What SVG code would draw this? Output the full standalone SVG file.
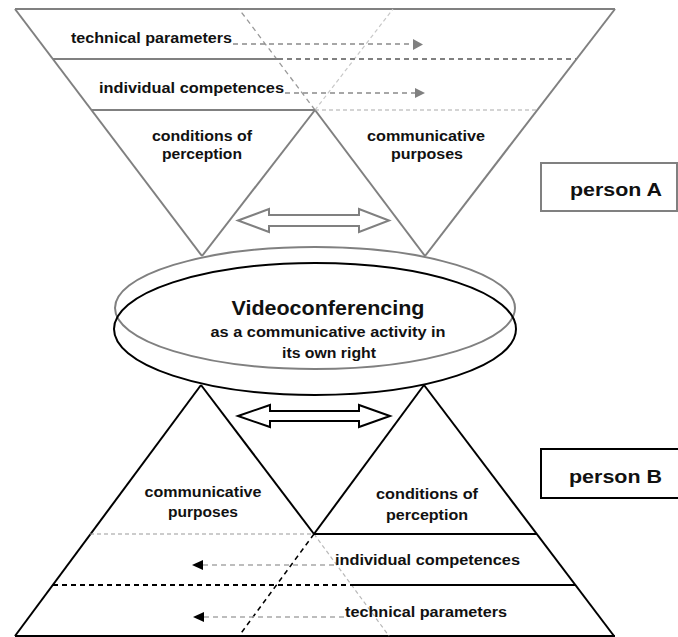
<svg xmlns="http://www.w3.org/2000/svg" width="678" height="637" viewBox="0 0 678 637">
<defs>
<style>
.g{stroke:#808080;stroke-width:2;fill:none}
.gd{stroke:#808080;stroke-width:2;fill:none;stroke-dasharray:5,4}
.gl{stroke:#c8c8c8;stroke-width:1.2;fill:none;stroke-dasharray:4,3}
.k{stroke:#000;stroke-width:2;fill:none}
.kd{stroke:#000;stroke-width:2;fill:none;stroke-dasharray:5,4}
.kl{stroke:#b8b8b8;stroke-width:1.2;fill:none;stroke-dasharray:4,3}
.ga{stroke:#8a8a8a;stroke-width:1.3;fill:none;stroke-dasharray:5,4}
.ka{stroke:#a8a8a8;stroke-width:1.3;fill:none;stroke-dasharray:5,4}
text{font-family:"Liberation Sans",Arial,sans-serif;font-weight:bold;fill:#111}
.s14{font-size:14px}
.c{text-anchor:middle}
</style>
</defs>
<rect width="678" height="637" fill="#fff"/>

<g id="personA-pyramid">
<line class="g" x1="15" y1="9" x2="615" y2="9"/>
<line class="g" x1="15" y1="9" x2="202" y2="256"/>
<line class="g" x1="202" y1="256" x2="315" y2="110"/>
<line class="gl" x1="315" y1="110" x2="393" y2="9"/>
<line class="g" x1="425" y1="256" x2="315" y2="110"/>
<line class="gd" x1="315" y1="110" x2="239" y2="9" style="stroke-width:1.3;stroke:#999"/>
<line class="g" x1="425" y1="256" x2="615" y2="9"/>
<line class="g" x1="53" y1="59" x2="278" y2="59"/>
<line class="gd" x1="278" y1="59" x2="577" y2="59"/>
<line class="g" x1="91" y1="110" x2="315" y2="110"/>
<line class="gl" x1="315" y1="110" x2="537" y2="110" style="stroke:#aaa"/>
</g>

<g id="personA-labels">
<text class="s14" x="71" y="43" textLength="161" lengthAdjust="spacingAndGlyphs">technical parameters</text>
<text class="s14" x="99" y="93" textLength="185" lengthAdjust="spacingAndGlyphs">individual competences</text>
<text class="s14 c" x="202" y="141" textLength="100" lengthAdjust="spacingAndGlyphs">conditions of</text>
<text class="s14 c" x="202" y="159" textLength="80" lengthAdjust="spacingAndGlyphs">perception</text>
<text class="s14 c" x="426" y="141" textLength="118" lengthAdjust="spacingAndGlyphs">communicative</text>
<text class="s14 c" x="427" y="159" textLength="72" lengthAdjust="spacingAndGlyphs">purposes</text>
</g>

<g id="personA-box">
<rect x="541" y="163" width="136" height="48" fill="none" stroke="#808080" stroke-width="2"/>
<text x="570" y="196" style="font-size:18px" textLength="92" lengthAdjust="spacingAndGlyphs">person A</text>
</g>

<g id="videoconferencing">
<ellipse cx="315" cy="308" rx="200" ry="61" fill="none" stroke="#808080" stroke-width="2"/>
<ellipse cx="315" cy="329" rx="201" ry="66" fill="none" stroke="#000" stroke-width="2"/>
<text class="c" x="328" y="315" style="font-size:20px" textLength="193" lengthAdjust="spacingAndGlyphs">Videoconferencing</text>
<text class="s14 c" x="328" y="337" textLength="235" lengthAdjust="spacingAndGlyphs">as a communicative activity in</text>
<text class="s14 c" x="329" y="358" textLength="94" lengthAdjust="spacingAndGlyphs">its own right</text>
</g>

<g id="personB-pyramid">
<line class="k" x1="15" y1="636" x2="615" y2="636"/>
<line class="k" x1="201" y1="385" x2="15" y2="636"/>
<line class="k" x1="201" y1="385" x2="314" y2="534"/>
<line class="kl" x1="314" y1="534" x2="389" y2="636"/>
<line class="k" x1="424" y1="385" x2="314" y2="534"/>
<line class="kd" x1="314" y1="534" x2="239" y2="636" style="stroke-width:1.5"/>
<line class="k" x1="424" y1="385" x2="614" y2="636"/>
<line class="kl" x1="90" y1="534" x2="314" y2="534" style="stroke:#999"/>
<line class="k" x1="314" y1="534" x2="537" y2="534"/>
<line class="kd" x1="53" y1="585" x2="352" y2="585"/>
<line class="k" x1="352" y1="585" x2="575" y2="585"/>
</g>

<g id="personB-labels">
<text class="s14 c" x="203" y="497" textLength="117" lengthAdjust="spacingAndGlyphs">communicative</text>
<text class="s14 c" x="203" y="517" textLength="70" lengthAdjust="spacingAndGlyphs">purposes</text>
<text class="s14 c" x="427" y="499" textLength="102" lengthAdjust="spacingAndGlyphs">conditions of</text>
<text class="s14 c" x="427" y="520" textLength="82" lengthAdjust="spacingAndGlyphs">perception</text>
<text class="s14" x="335" y="565" textLength="185" lengthAdjust="spacingAndGlyphs">individual competences</text>
<text class="s14" x="345" y="617" textLength="162" lengthAdjust="spacingAndGlyphs">technical parameters</text>
</g>

<g id="personB-box">
<rect x="541" y="449" width="140" height="49" fill="none" stroke="#000" stroke-width="2"/>
<text x="569" y="483" style="font-size:18px" textLength="93" lengthAdjust="spacingAndGlyphs">person B</text>
</g>

<g id="connectors">
<line class="ga" x1="233" y1="44" x2="413" y2="44"/>
<polygon points="413,39 423,44.5 413,50" fill="#808080"/>
<line class="ga" x1="285" y1="93" x2="415" y2="93"/>
<polygon points="415,88 425,93 415,98" fill="#808080"/>
<polygon points="238,220.5 269,209 269,215 359,215 359,209 389,220.5 359,232 359,226 269,226 269,232" fill="#fff" stroke="#808080" stroke-width="2"/>
<polygon points="238,416 270,405 270,411 359,411 359,405 390,416 359,427 359,421 270,421 270,427" fill="#fff" stroke="#000" stroke-width="2"/>
<line class="ka" x1="334" y1="565" x2="203" y2="565"/>
<polygon points="192,565 203,560 203,570" fill="#000"/>
<line class="ka" x1="344" y1="617" x2="204" y2="617"/>
<polygon points="193,617 204,612 204,622" fill="#000"/>
</g>
</svg>
